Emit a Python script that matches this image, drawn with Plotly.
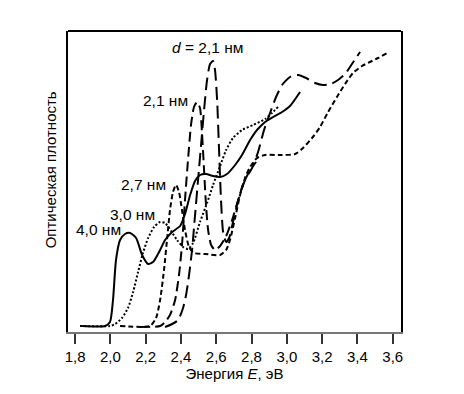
import plotly.graph_objects as go

# 4,0 nm (solid)
e_40 = [1.840, 1.970, 1.998, 2.015, 2.032, 2.055, 2.083, 2.112, 2.146, 2.180, 2.214, 2.242, 2.282, 2.310,
        2.350, 2.395, 2.423, 2.452, 2.480, 2.508, 2.542, 2.582, 2.622, 2.661, 2.707, 2.746, 2.792, 2.831,
        2.877, 2.922, 2.973, 3.018, 3.075]
od_40 = [0.06, 0.06, 0.10, 0.32, 0.72, 0.92, 0.98, 0.99, 0.94, 0.77, 0.68, 0.70, 0.82, 0.92,
         1.00, 1.06, 1.18, 1.37, 1.51, 1.57, 1.58, 1.56, 1.55, 1.58, 1.67, 1.77, 1.92, 2.02,
         2.10, 2.15, 2.20, 2.26, 2.40]

# 3,0 nm (dotted)
e_30 = [1.828, 1.998, 2.027, 2.066, 2.100, 2.129, 2.157, 2.185, 2.214, 2.248, 2.282, 2.310, 2.344, 2.378,
        2.412, 2.440, 2.469, 2.508, 2.548, 2.582, 2.622, 2.656, 2.695, 2.746, 2.809, 2.877, 2.916, 2.950]
od_30 = [0.06, 0.06, 0.08, 0.14, 0.24, 0.40, 0.60, 0.79, 0.94, 1.05, 1.10, 1.09, 1.01, 0.92,
         0.85, 0.83, 0.89, 1.10, 1.29, 1.47, 1.66, 1.82, 1.94, 2.02, 2.07, 2.13, 2.19, 2.25]

# 2,7 nm (short dash)
e_27 = [2.055, 2.225, 2.259, 2.282, 2.304, 2.321, 2.338, 2.355, 2.372, 2.389, 2.406, 2.423, 2.446, 2.474,
        2.537, 2.622, 2.656, 2.678, 2.707, 2.735, 2.763, 2.792, 2.831, 2.877, 2.962, 3.047, 3.092, 3.143,
        3.188, 3.234, 3.284, 3.330, 3.375, 3.426, 3.471, 3.517, 3.568]
od_27 = [0.06, 0.06, 0.14, 0.32, 0.62, 0.92, 1.22, 1.40, 1.47, 1.40, 1.22, 1.02, 0.85, 0.79,
         0.78, 0.77, 0.82, 0.92, 1.14, 1.37, 1.54, 1.65, 1.74, 1.77, 1.77, 1.78, 1.84, 1.94,
         2.05, 2.20, 2.35, 2.48, 2.59, 2.66, 2.70, 2.74, 2.79]

# 2,1 nm (long dash)
e_21a = [2.168, 2.282, 2.310, 2.338, 2.367, 2.389, 2.406, 2.423, 2.440, 2.457, 2.474, 2.491, 2.508, 2.520,
         2.531, 2.542, 2.554, 2.571, 2.593, 2.622, 2.656, 2.690, 2.724, 2.758, 2.792, 2.826]
od_21a = [0.05, 0.06, 0.10, 0.17, 0.32, 0.57, 0.87, 1.32, 1.72, 2.07, 2.25, 2.30, 2.24, 1.97,
          1.62, 1.27, 1.02, 0.87, 0.82, 0.86, 0.96, 1.12, 1.32, 1.50, 1.62, 1.70]

# d = 2,1 nm (longer dash)
e_21b = [2.310, 2.350, 2.384, 2.412, 2.429, 2.446, 2.463, 2.480, 2.497, 2.514, 2.531, 2.548, 2.565, 2.582,
         2.593, 2.605, 2.616, 2.627, 2.639, 2.656, 2.673, 2.695, 2.718, 2.741, 2.769, 2.803, 2.837, 2.871,
         2.905, 2.939, 2.973, 3.018, 3.064, 3.109, 3.160, 3.205, 3.250, 3.290, 3.330, 3.369, 3.415]
od_21b = [0.05, 0.08, 0.12, 0.24, 0.37, 0.57, 0.82, 1.17, 1.52, 1.87, 2.22, 2.52, 2.68, 2.71,
          2.62, 2.32, 1.82, 1.32, 1.00, 0.90, 0.94, 1.10, 1.27, 1.42, 1.54, 1.64, 1.80, 2.02,
          2.19, 2.35, 2.47, 2.55, 2.57, 2.54, 2.49, 2.47, 2.48, 2.52, 2.58, 2.68, 2.80]

tick_vals = [1.8, 2.0, 2.2, 2.4, 2.6, 2.8, 3.0, 3.2, 3.4, 3.6]
tick_text = ["1,8", "2,0", "2,2", "2,4", "2,6", "2,8", "3,0", "3,2", "3,4", "3,6"]

FONT = "Liberation Sans, Arial, sans-serif"

fig = go.Figure()
series = [
    (e_40, od_40, "solid"),
    (e_30, od_30, "2px,2px"),
    (e_27, od_27, "5px,3px"),
    (e_21a, od_21a, "10px,5px"),
    (e_21b, od_21b, "13px,6px"),
]
for ex, oy, dash in series:
    fig.add_trace(go.Scatter(x=ex, y=oy, mode="lines",
                             line=dict(color="black", width=2, dash=dash, shape="spline", smoothing=0.6),
                             showlegend=False, hoverinfo="skip"))

labels = [
    (2.55, 2.85, "<i>d</i> = 2,1 нм"),
    (2.31, 2.32, "2,1 нм"),
    (2.19, 1.48, "2,7 нм"),
    (2.125, 1.18, "3,0 нм"),
    (1.93, 1.03, "4,0 нм"),
]
for lx, ly, txt in labels:
    fig.add_annotation(x=lx, y=ly, text=txt, showarrow=False,
                       font=dict(family=FONT, size=15.5, color="black"))

fig.add_annotation(xref="paper", yref="paper", x=-0.02, y=0.54, text="Оптическая плотность",
                   textangle=-90, showarrow=False, xanchor="right",
                   font=dict(family=FONT, size=15, color="black"))

# top frame line
fig.add_shape(type="line", xref="paper", yref="paper", x0=0, x1=1, y0=1, y1=1,
              line=dict(color="black", width=2))

# page body has an 8px margin, so the plot box is offset accordingly
fig.update_layout(
    width=464, height=394,
    margin=dict(l=60, r=71, t=23, b=70),
    paper_bgcolor="white", plot_bgcolor="white",
    font=dict(family=FONT, size=15, color="black"),
    xaxis=dict(range=[1.760, 3.647], tickvals=tick_vals, ticktext=tick_text,
               ticks="outside", ticklen=10, tickwidth=1.5, tickcolor="#333",
               showline=True, linecolor="#777", linewidth=2, showgrid=False, zeroline=False,
               title=dict(text="Энергия <i>E</i>, эВ", standoff=2,
                          font=dict(family=FONT, size=15)),
               tickfont=dict(family=FONT, size=15)),
    yaxis=dict(range=[0, 3.01], showticklabels=False, ticks="", showline=True,
               linecolor="black", linewidth=2, mirror=True, showgrid=False, zeroline=False),
)

fig.write_html("out.html")
